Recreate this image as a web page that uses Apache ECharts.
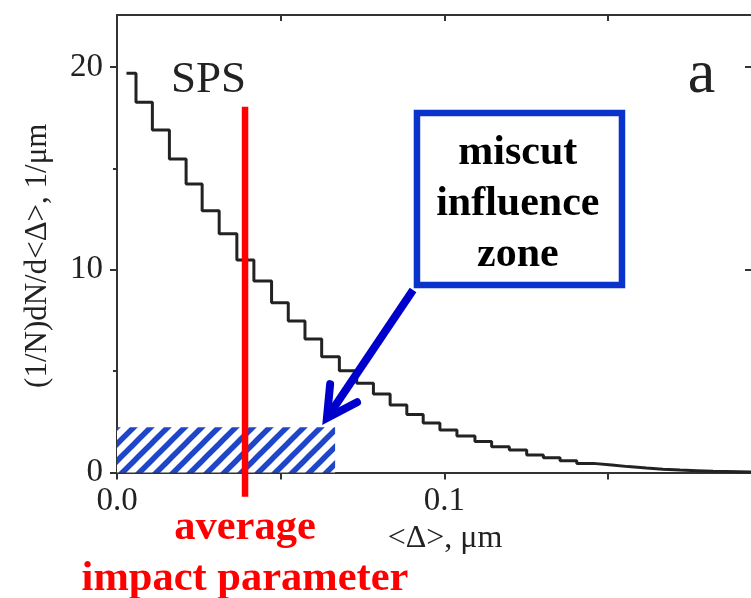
<!DOCTYPE html>
<html>
<head>
<meta charset="utf-8">
<script src="https://cdn.jsdelivr.net/npm/echarts@6/dist/echarts.min.js"></script>
<style>
  html, body { margin: 0; padding: 0; background: #fff; }
  #chart { width: 751px; height: 598px; }
</style>
</head>
<body>
<div id="chart"></div>
<script>
// ---- data ----
// left edge of each histogram step (<Δ>, µm)
const stepX = [0.0029, 0.0058, 0.0108, 0.0160, 0.0211, 0.0260, 0.0312, 0.0366, 0.0418, 0.0472,
               0.0523, 0.0574, 0.0625, 0.0679, 0.0732, 0.0783, 0.0834, 0.0885, 0.0935, 0.0986,
               0.1038, 0.1093, 0.1144, 0.1198, 0.1251, 0.1302, 0.1353, 0.1404, 0.1454, 0.1511,
               0.1561, 0.1617, 0.1667, 0.1719, 0.1770, 0.1820];
// step heights (1/N)dN/d<Δ>, 1/µm
const stepY = [19.69, 18.26, 16.89, 15.46, 14.23, 12.91, 11.77, 10.48, 9.45, 8.37,
               7.47, 6.58, 5.71, 5.02, 4.40, 3.87, 3.33, 2.86, 2.44, 2.10,
               1.80, 1.53, 1.27, 1.11, 0.86, 0.73, 0.58, 0.45, 0.37, 0.29,
               0.22, 0.16, 0.12, 0.09, 0.06, 0.03];
const xRange = [0, 0.1936];
const yRange = [0, 22.565];
const xTickValues = [0, 0.05, 0.1, 0.15];
const xLabelValues = [0, 0.1];
const xTopTickValues = [0.05, 0.1, 0.15];
const yTickValues = [0, 10, 20];
const yRightTickValues = [10, 20];
const yMinorTickValues = [5, 15];

// annotations (data coordinates)
const avgImpact = 0.0391;           // average impact parameter
const avgLineY = [18.04, -1.19];
const zoneX = [0, 0.0666];          // miscut influence zone
const zoneY = [0, 2.23];
const boxCorner1 = [0.0916, 17.73];
const boxCorner2 = [0.1542, 9.25];
const arrowFrom = [0.0904, 9.0];
const arrowTo = [0.0641, 2.69];
const spsPos = [0.0165, 19.33];
const panelPos = [0.1743, 19.55];
const boxTextPos = [0.1224, 13.24];
const avgTextPos = [0.0391, -4.0];

const serif = '"Liberation Serif", "Times New Roman", serif';
const ink = '#222';

// hatch pattern
const tile = document.createElement('canvas');
tile.width = 17; tile.height = 17;
(function () {
  const c = tile.getContext('2d');
  c.fillStyle = '#fff';
  c.fillRect(0, 0, 17, 17);
  c.strokeStyle = '#1f45c8';
  c.lineWidth = 5.5;
  for (let k = -1; k <= 1; k++) {
    c.beginPath();
    c.moveTo(k * 17 - 2, 19);
    c.lineTo(k * 17 + 19, -2);
    c.stroke();
  }
})();

const stepData = stepX.map((x, i) => [x, stepY[i]]);
stepData.push([xRange[1], stepY[stepY.length - 1]]);

const chart = echarts.init(document.getElementById('chart'), null, { renderer: 'canvas' });

function renderZone(params, api) {
  const p0 = api.coord([zoneX[0], zoneY[1]]);
  const p1 = api.coord([zoneX[1], zoneY[0]]);
  return {
    type: 'rect',
    shape: { x: p0[0], y: p0[1], width: p1[0] - p0[0], height: p1[1] - p0[1] },
    style: { fill: { image: tile, repeat: 'repeat' } }
  };
}

function renderAnnotations(params, api) {
  const top = api.coord([avgImpact, avgLineY[0]]);
  const bot = api.coord([avgImpact, avgLineY[1]]);
  const b1 = api.coord(boxCorner1);
  const b2 = api.coord(boxCorner2);
  const a0 = api.coord(arrowFrom);
  const a1 = api.coord(arrowTo);
  const dx = a0[0] - a1[0], dy = a0[1] - a1[1];
  const ang = Math.atan2(dy, dx);
  const armLen = 34, spread = 28.5 * Math.PI / 180;
  const armL = [a1[0] + armLen * Math.cos(ang - spread), a1[1] + armLen * Math.sin(ang - spread)];
  const armR = [a1[0] + armLen * Math.cos(ang + spread), a1[1] + armLen * Math.sin(ang + spread)];
  const sps = api.coord(spsPos);
  const pan = api.coord(panelPos);
  const bt = api.coord(boxTextPos);
  const at = api.coord(avgTextPos);
  return {
    type: 'group',
    children: [
      { type: 'line', shape: { x1: top[0], y1: top[1], x2: bot[0], y2: bot[1] },
        style: { stroke: '#ff0000', lineWidth: 6.5 } },
      { type: 'rect', shape: { x: b1[0], y: b1[1], width: b2[0] - b1[0], height: b2[1] - b1[1] },
        style: { fill: '#fff', stroke: '#0a33cc', lineWidth: 6.5 } },
      { type: 'line', shape: { x1: a0[0], y1: a0[1], x2: a1[0] + 3 * Math.cos(ang), y2: a1[1] + 3 * Math.sin(ang) },
        style: { stroke: '#0000cc', lineWidth: 8 } },
      { type: 'polyline', shape: { points: [armL, a1, armR] },
        style: { stroke: '#0000cc', lineWidth: 8, lineJoin: 'miter', lineCap: 'round', fill: null } },
      { type: 'text', x: sps[0], y: sps[1],
        style: { text: 'SPS', fill: ink, font: '45px ' + serif, align: 'left', verticalAlign: 'middle' } },
      { type: 'text', x: pan[0], y: pan[1],
        style: { text: 'a', fill: ink, font: '62px ' + serif, align: 'left', verticalAlign: 'middle' } },
      { type: 'text', x: bt[0], y: bt[1],
        style: { text: 'miscut\ninfluence\nzone', fill: '#000', font: 'bold 42px ' + serif,
                 lineHeight: 51, align: 'center', verticalAlign: 'middle' } },
      { type: 'text', x: at[0], y: at[1],
        style: { text: 'average\nimpact parameter', fill: '#ff0000', font: 'bold 42.5px ' + serif,
                 lineHeight: 51, align: 'center', verticalAlign: 'middle' } }
    ]
  };
}

const axisLineStyle = { color: '#333', width: 2 };

chart.setOption({
  animation: false,
  backgroundColor: '#fff',
  grid: { left: 117, top: 15, right: 0, bottom: 125.5, containLabel: false },
  xAxis: [
    {
      type: 'value', position: 'bottom', min: xRange[0], max: xRange[1],
      name: '<Δ>, μm', nameLocation: 'middle', nameGap: 46,
      nameTextStyle: { fontFamily: serif, fontSize: 32, color: ink, padding: [0, 0, 0, 22] },
      axisLine: { show: true, onZero: false, lineStyle: axisLineStyle },
      axisTick: { show: true, inside: false, length: 7, customValues: xTickValues, lineStyle: axisLineStyle },
      axisLabel: { show: true, customValues: xLabelValues, margin: 12, fontFamily: serif, fontSize: 33, color: ink,
                   formatter: v => v.toFixed(1) },
      splitLine: { show: false }
    },
    {
      type: 'value', position: 'top', min: xRange[0], max: xRange[1],
      axisLine: { show: true, onZero: false, lineStyle: axisLineStyle },
      axisTick: { show: true, inside: true, length: 6, customValues: xTopTickValues, lineStyle: axisLineStyle },
      axisLabel: { show: false },
      splitLine: { show: false }
    }
  ],
  yAxis: [
    {
      type: 'value', position: 'left', min: yRange[0], max: yRange[1],
      name: '(1/N)dN/d<Δ>, 1/μm', nameLocation: 'middle', nameGap: 64, nameRotate: 90,
      nameTextStyle: { fontFamily: serif, fontSize: 31, color: ink, padding: [0, 24, 0, 0] },
      axisLine: { show: true, onZero: false, lineStyle: axisLineStyle },
      axisTick: { show: true, inside: false, length: 7, customValues: yTickValues, lineStyle: axisLineStyle },
      axisLabel: { show: true, customValues: yTickValues, margin: 14, fontFamily: serif, fontSize: 33, color: ink },
      splitLine: { show: false }
    },
    {
      type: 'value', position: 'right', min: yRange[0], max: yRange[1],
      axisLine: { show: false, onZero: false },
      axisTick: { show: true, inside: true, length: 6, customValues: yRightTickValues, lineStyle: axisLineStyle },
      axisLabel: { show: false },
      splitLine: { show: false }
    },
    {
      type: 'value', position: 'left', min: yRange[0], max: yRange[1],
      axisLine: { show: false, onZero: false },
      axisTick: { show: true, inside: false, length: 4, customValues: yMinorTickValues, lineStyle: axisLineStyle },
      axisLabel: { show: false },
      splitLine: { show: false }
    }
  ],
  series: [
    {
      name: 'zone', type: 'custom', xAxisIndex: 0, yAxisIndex: 0, clip: false, z: 1,
      data: [[0, 0]], renderItem: renderZone, silent: true
    },
    {
      name: 'SPS', type: 'line', xAxisIndex: 0, yAxisIndex: 0, step: 'end', data: stepData,
      showSymbol: false, symbol: 'none', z: 2,
      lineStyle: { color: ink, width: 3 }
    },
    {
      name: 'annotations', type: 'custom', xAxisIndex: 0, yAxisIndex: 0, clip: false, z: 3,
      data: [[0, 0]], renderItem: renderAnnotations, silent: true
    }
  ]
});
</script>
</body>
</html>
